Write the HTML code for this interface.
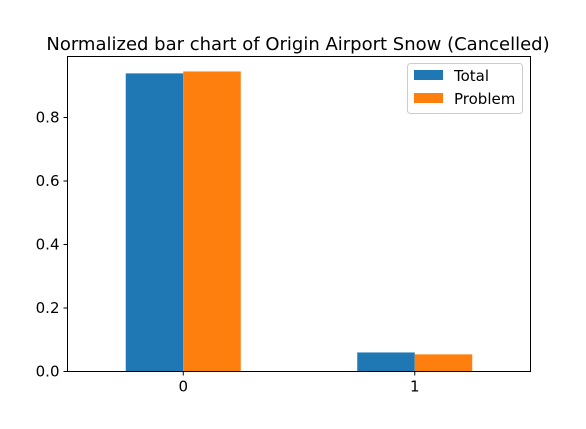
<!DOCTYPE html>
<html><head><meta charset="utf-8"><style>
body{margin:0;background:#fff;}
svg{display:block;font-family:"DejaVu Sans","Liberation Sans",sans-serif;}
</style></head><body>
<svg id="chart" width="586" height="429" viewBox="0 0 586 429" xmlns="http://www.w3.org/2000/svg">
<rect width="586" height="429" fill="#fff"/>
<text x="298" y="50" font-size="18" text-anchor="middle" fill="#000">Normalized bar chart of Origin Airport Snow (Cancelled)</text>
<g id="bars"></g>
<g id="ticks"></g>
<rect x="67.5" y="56.5" width="463" height="315" fill="none" stroke="#000" stroke-width="1"/>
<g>
<rect x="407.5" y="63.5" width="115" height="50" rx="3" fill="#fff" stroke="#ccc"/>
<rect x="414" y="70" width="29" height="10" fill="#1f77b4"/>
<text x="454" y="81" font-size="15">Total</text>
<rect x="414" y="93" width="29" height="10" fill="#ff7f0e"/>
<text x="454" y="104" font-size="15">Problem</text>
</g>
</svg>
<script>
const categories = ["0", "1"];
const totalValues = [0.939, 0.060];
const problemValues = [0.945, 0.054];
const yTicks = [0.0, 0.2, 0.4, 0.6, 0.8];
const yTickLabels = ["0.0", "0.2", "0.4", "0.6", "0.8"];

const NS = "http://www.w3.org/2000/svg";
const x0 = 67.5, x1 = 530.5, yBase = 371.5;
const yScale = v => yBase - v * 317.5;
const groupW = (x1 - x0) / categories.length;
const xCenter = i => x0 + groupW * (i + 0.5);
const barW = 57.5;
const bars = document.getElementById('bars');
const ticks = document.getElementById('ticks');
function mk(tag, attrs, parent) {
  const e = document.createElementNS(NS, tag);
  for (const k in attrs) e.setAttribute(k, attrs[k]);
  parent.appendChild(e);
  return e;
}
categories.forEach((c, i) => {
  const cx = xCenter(i);
  const b1 = mk('rect', {x: cx - barW, y: yScale(totalValues[i]), width: barW, height: yBase - yScale(totalValues[i]), fill: '#1f77b4'}, bars);
  
  
  const b2 = mk('rect', {x: cx, y: yScale(problemValues[i]), width: barW, height: yBase - yScale(problemValues[i]), fill: '#ff7f0e'}, bars);
  
  
  const t = mk('line', {x1: cx, x2: cx, y1: yBase, y2: yBase + 4, stroke: '#000'}, ticks);
  
  
  const l = mk('text', {x: cx, y: yBase + 20, 'font-size': 15, 'text-anchor': 'middle'}, ticks);
  l.textContent = c;
  
  
});
yTicks.forEach((v, i) => {
  const y = yScale(v);
  const t = mk('line', {x1: x0 - 4, x2: x0, y1: y, y2: y, stroke: '#000'}, ticks);
  
  
  const l = mk('text', {x: x0 - 8, y: y + 5, 'font-size': 15, 'text-anchor': 'end'}, ticks);
  l.textContent = yTickLabels[i];
  
  
});
</script>
</body></html>
